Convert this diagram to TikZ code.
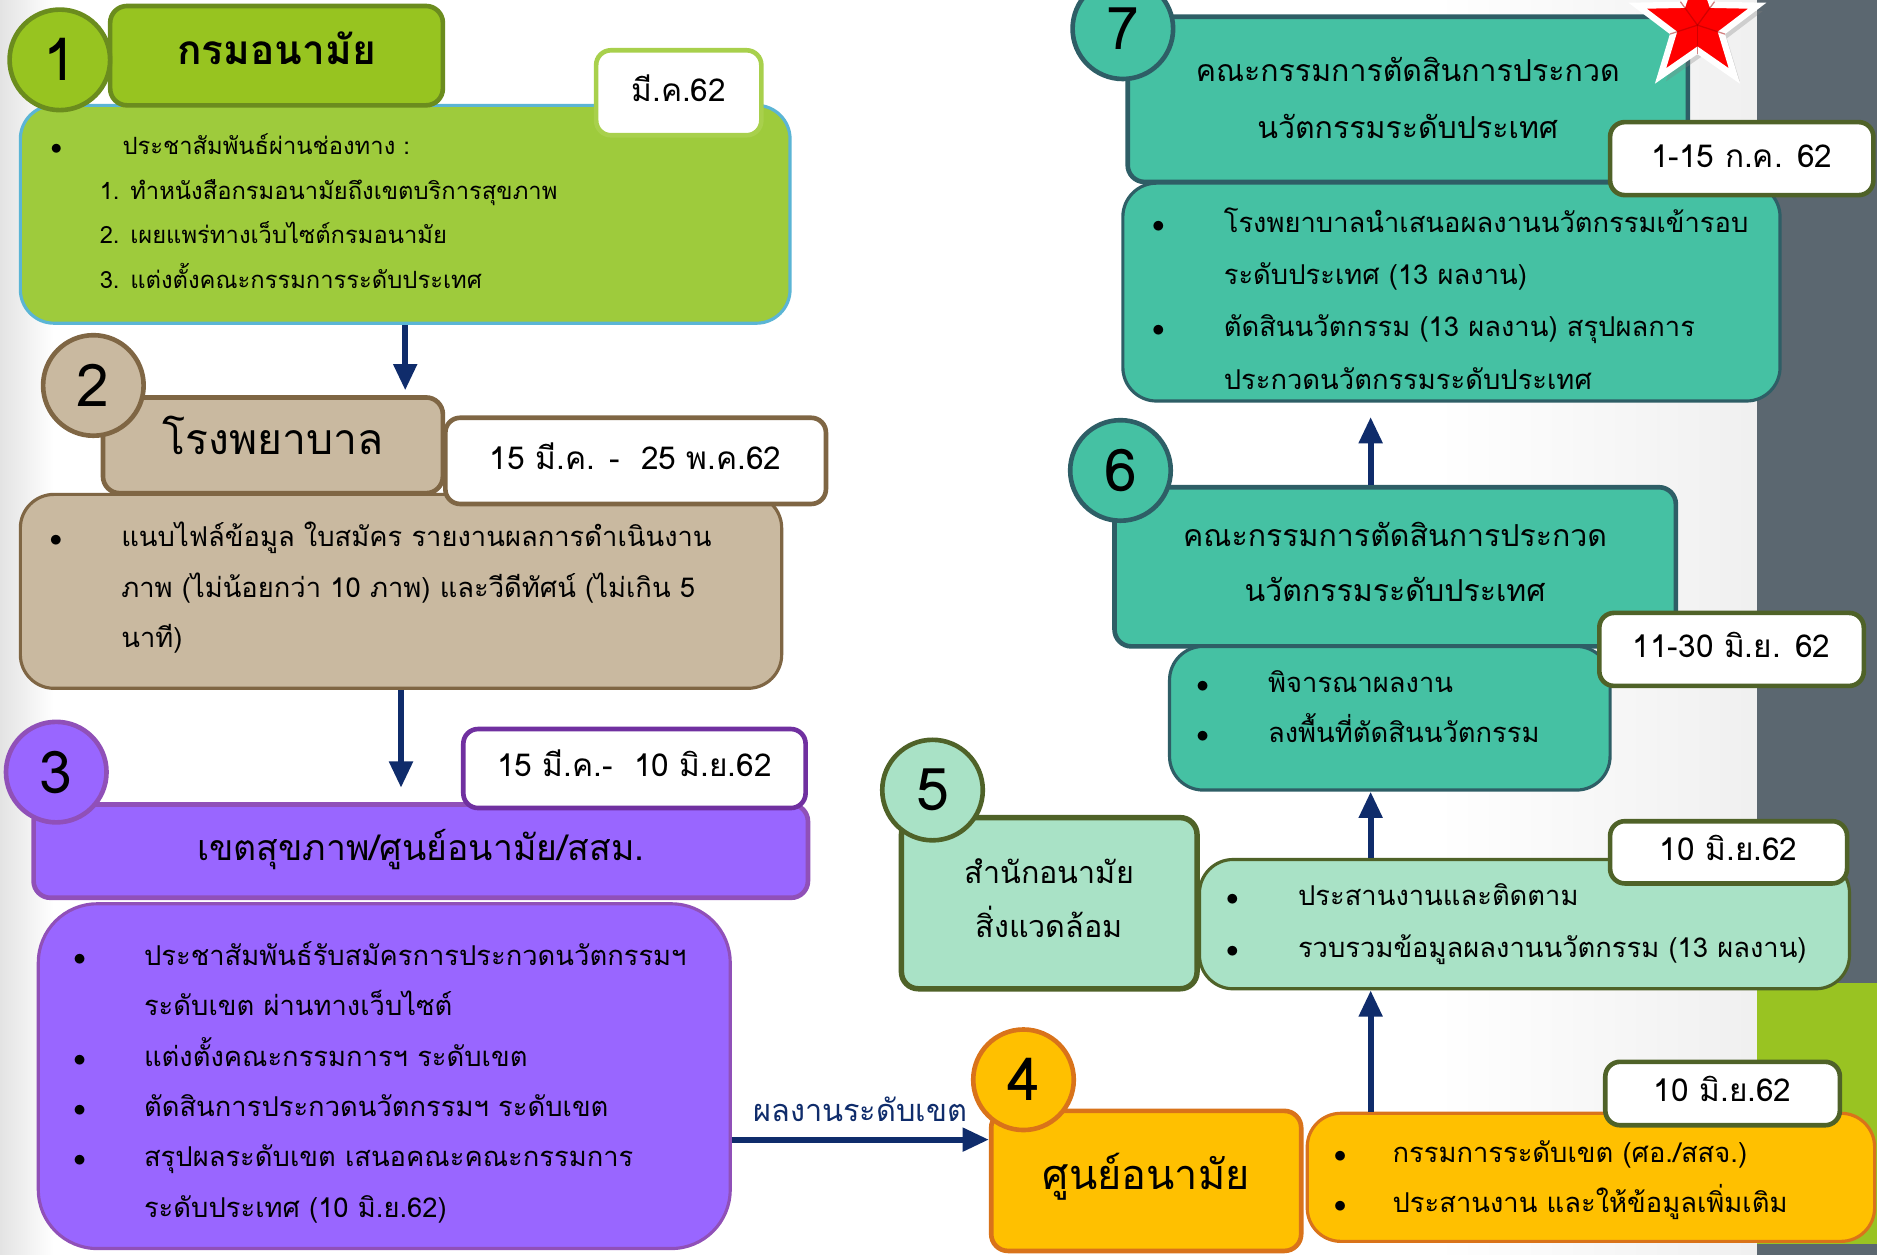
\documentclass[tikz,border=0pt]{standalone}
\usepackage{fontspec}
\setmainfont[Script=Thai]{Loma}
\usetikzlibrary{arrows.meta,positioning,fit,shapes.geometric,shadows}

\definecolor{navy}{HTML}{0F2C6B}
\definecolor{slate}{HTML}{5B6770}
\definecolor{lime}{HTML}{99C322}
\definecolor{grnfill}{HTML}{97C420}
\definecolor{grnbody}{HTML}{9ECB3C}
\definecolor{grnline}{HTML}{6B8C1E}
\definecolor{grnlight}{HTML}{A8D04C}
\definecolor{skyline}{HTML}{5BB5D5}
\definecolor{tanfill}{HTML}{C9B9A0}
\definecolor{tanline}{HTML}{7F6644}
\definecolor{vfill}{HTML}{9966FF}
\definecolor{vline}{HTML}{9050B8}
\definecolor{vdark}{HTML}{7030A0}
\definecolor{ofill}{HTML}{FFC000}
\definecolor{oline}{HTML}{D9731A}
\definecolor{mfill}{HTML}{A9E2C6}
\definecolor{olive}{HTML}{4F6228}
\definecolor{tfill}{HTML}{45C1A3}
\definecolor{tline}{HTML}{2E5E66}

\newcommand\bl[1][1.2cm]{\makebox[#1][l]{$\bullet$}}
\newcommand\ind[1][1.2cm]{\hspace*{#1}}

\begin{document}
\begin{tikzpicture}[x=0.02cm,y=-0.02cm,
  head/.style={draw, rounded corners=8pt, line width=2.2pt, inner sep=0pt, text height=0.85em, text depth=0pt},
  body/.style={draw, rounded corners=16pt, line width=1.5pt, inner sep=0pt},
  datebox/.style={draw, fill=white, rounded corners=7pt, line width=2.2pt, inner sep=0pt, text height=0.8em, text depth=0pt, font=\fontsize{15}{15}\selectfont},
  num/.style={circle, draw, line width=2.2pt, minimum size=1.68cm, inner sep=0pt, font=\fontsize{28}{28}\selectfont},
  txt/.style={anchor=base west, align=left, inner sep=0pt, font=\fontsize{13}{24}\selectfont},
  flow/.style={navy, line width=2.8pt, -{Triangle[length=0.44cm,width=0.38cm]}}]
\useasboundingbox (0,0) rectangle (1568,1048);
% background
\fill[white] (0,0) rectangle (1568,1048);
\shade[left color=gray!22, right color=white] (0,0) rectangle (45,1048);
\shade[left color=white, right color=gray!12] (1200,0) rectangle (1468,1048);
\fill[slate] (1468,0) rectangle (1568,1048);
\fill[lime] (1468,821) rectangle (1568,1039);

% 1 
\node[body, fill=grnbody, draw=skyline, fit={(17,88) (660,270)}] (b1) {};
\node[head, fill=grnfill, draw=grnline, minimum width=5.56cm, minimum height=1.66cm, font=\bfseries\fontsize{19.3}{19.3}\selectfont] (h1) at (231,46.5) {กรมอนามัย};
\node[datebox, draw=grnlight, minimum width=2.76cm, minimum height=1.42cm] (d1) at (567,77.5) {มี.ค.62};
\node[num, fill=grnfill, draw=grnline] (n1) at (50,50) {1};
\node[txt, font=\fontsize{11.3}{21.2}\selectfont] (t1) at (42,241) {\bl ประชาสัมพันธ์ผ่านช่องทาง :\\
  \ind[0.82cm]1. ทำหนังสือกรมอนามัยถึงเขตบริการสุขภาพ\\
  \ind[0.82cm]2. เผยแพร่ทางเว็บไซต์กรมอนามัย\\
  \ind[0.82cm]3. แต่งตั้งคณะกรรมการระดับประเทศ};

% 2
\node[body, fill=tanfill, draw=tanline, fit={(17,413) (653,575)}] (b2) {};
\node[head, fill=tanfill, draw=tanline, minimum width=5.68cm, minimum height=1.6cm, font=\fontsize{20.3}{20.3}\selectfont] (h2) at (228,372) {โรงพยาบาล};
\node[datebox, draw=tanline, minimum width=6.36cm, minimum height=1.44cm] (d2) at (531,385) {15 มี.ค. -~~25 พ.ค.62};
\node[num, fill=tanfill, draw=tanline] (n2) at (78,322) {2};
\node[txt] (t2) at (41,541) {\bl แนบไฟล์ข้อมูล ใบสมัคร รายงานผลการดำเนินงาน\\
  \ind ภาพ (ไม่น้อยกว่า 10 ภาพ) และวีดีทัศน์ (ไม่เกิน 5\\
  \ind นาที)};

% 3
\node[body, fill=vfill, draw=vline, rounded corners=28pt, fit={(32,755) (610,1043)}] (b3) {};
\node[head, fill=vfill, draw=vline, minimum width=12.94cm, minimum height=1.56cm, font=\fontsize{16.9}{16.9}\selectfont] (h3) at (351.5,711) {เขตสุขภาพ/ศูนย์อนามัย/สสม.};
\node[datebox, draw=vdark, minimum width=5.72cm, minimum height=1.32cm] (d3) at (530,642) {15 มี.ค.-~~10 มิ.ย.62};
\node[num, fill=vfill, draw=vline] (n3) at (47,645) {3};
\node[txt] (t3) at (61,1017) {\bl[1.18cm]ประชาสัมพันธ์รับสมัครการประกวดนวัตกรรมฯ\\
  \ind[1.18cm]ระดับเขต ผ่านทางเว็บไซต์\\
  \bl[1.18cm]แต่งตั้งคณะกรรมการฯ ระดับเขต\\
  \bl[1.18cm]ตัดสินการประกวดนวัตกรรมฯ ระดับเขต\\
  \bl[1.18cm]สรุปผลระดับเขต เสนอคณะคณะกรรมการ\\
  \ind[1.18cm]ระดับประเทศ (10 มิ.ย.62)};

% 4
\node[body, fill=ofill, draw=oline, fit={(1092,930) (1566,1037)}] (b4) {};
\node[head, fill=ofill, draw=oline, minimum width=5.18cm, minimum height=2.34cm, font=\fontsize{19.7}{19.7}\selectfont] (h4) at (957.5,986.5) {ศูนย์อนามัย};
\node[datebox, draw=olive, minimum width=3.92cm, minimum height=1.06cm] (d4) at (1439,913.5) {10 มิ.ย.62};
\node[num, fill=ofill, draw=oline] (n4) at (855,902) {4};
\node[txt, font=\fontsize{13}{23.8}\selectfont] (t4) at (1114,1013) {\bl[0.98cm]กรรมการระดับเขต (ศอ./สสจ.)\\
  \bl[0.98cm]ประสานงาน และให้ข้อมูลเพิ่มเติม};

% 5
\node[body, fill=mfill, draw=olive, fit={(1002,718) (1545,826)}] (b5) {};
\node[head, fill=mfill, draw=olive, line width=2.6pt, minimum width=4.94cm, minimum height=2.86cm, align=center, text height=33pt, font=\fontsize{14.5}{26}\selectfont] (h5) at (876.5,754.5) {สำนักอนามัย\\สิ่งแวดล้อม};
\node[datebox, draw=olive, minimum width=3.96cm, minimum height=1.04cm] (d5) at (1444,712) {10 มิ.ย.62};
\node[num, fill=mfill, draw=olive] (n5) at (779,660) {5};
\node[txt, font=\fontsize{13}{24.9}\selectfont] (t5) at (1024,800) {\bl ประสานงานและติดตาม\\
  \bl รวบรวมข้อมูลผลงานนวัตกรรม (13 ผลงาน)};

% 6
\node[head, fill=tfill, draw=tline, minimum width=9.38cm, minimum height=2.66cm, align=center, text height=33pt, font=\fontsize{14.4}{26}\selectfont] (h6) at (1165.5,473.5) {คณะกรรมการตัดสินการประกวด\\นวัตกรรมระดับประเทศ};
\node[body, fill=tfill, draw=tline, fit={(977,540) (1345,660)}] (b6) {};
\node[datebox, draw=olive, minimum width=4.42cm, minimum height=1.22cm] (d6) at (1446.5,542.5) {11-30 มิ.ย. 62};
\node[num, fill=tfill, draw=tline] (n6) at (936,393) {6};
\node[txt, font=\fontsize{13}{23.8}\selectfont] (t6) at (999,620) {\bl พิจารณาผลงาน\\
  \bl ลงพื้นที่ตัดสินนวัตกรรม};

% 7
\node[head, fill=tfill, draw=tline, minimum width=9.36cm, minimum height=2.76cm, align=center, text height=37pt, font=\fontsize{14.4}{27}\selectfont] (h7) at (1176,83) {คณะกรรมการตัดสินการประกวด\\นวัตกรรมระดับประเทศ};
\node[body, fill=tfill, draw=tline, fit={(938,153) (1487,335)}] (b7) {};
\node[datebox, draw=olive, minimum width=4.4cm, minimum height=1.22cm] (d7) at (1455,132.5) {1-15 ก.ค. 62};
\node[num, fill=tfill, draw=tline] (n7) at (938,24) {7};
\node[star, star points=5, star point ratio=2.5, minimum size=2.1cm, inner sep=0pt, fill=red, draw=white, line width=3pt, drop shadow={opacity=0.3}] (star) at (1418,21) {};
\foreach \i in {1,...,5}
  \draw[red!65!black, line width=0.6pt, opacity=0.5] (star.center) -- (star.inner point \i);
\node[txt, font=\fontsize{13}{24.8}\selectfont] (t7) at (962,325) {\bl โรงพยาบาลนำเสนอผลงานนวัตกรรมเข้ารอบ\\
  \ind ระดับประเทศ (13 ผลงาน)\\
  \bl ตัดสินนวัตกรรม (13 ผลงาน) สรุปผลการ\\
  \ind ประกวดนวัตกรรมระดับประเทศ};

% arrows
\coordinate (spine) at (1145,0);
\draw[flow, shorten >=0.08cm] (b1.south) -- (b1.south |- h2.north);
\draw[flow, shorten >=0.24cm] (b2.south) -- (b2.south |- h3.north);
\draw[flow] (b3.east |- 0,952) -- node[above=4pt, font=\fontsize{14.6}{14.6}\selectfont] (lab) {ผลงานระดับเขต} (h4.west |- 0,952);
\draw[flow] (b4.north -| spine) -- (b5.south -| spine);
\draw[flow] (b5.north -| spine) -- (b6.south -| spine);
\draw[flow, shorten >=0.24cm] (h6.north -| spine) -- (b7.south -| spine);
\end{tikzpicture}
\end{document}
